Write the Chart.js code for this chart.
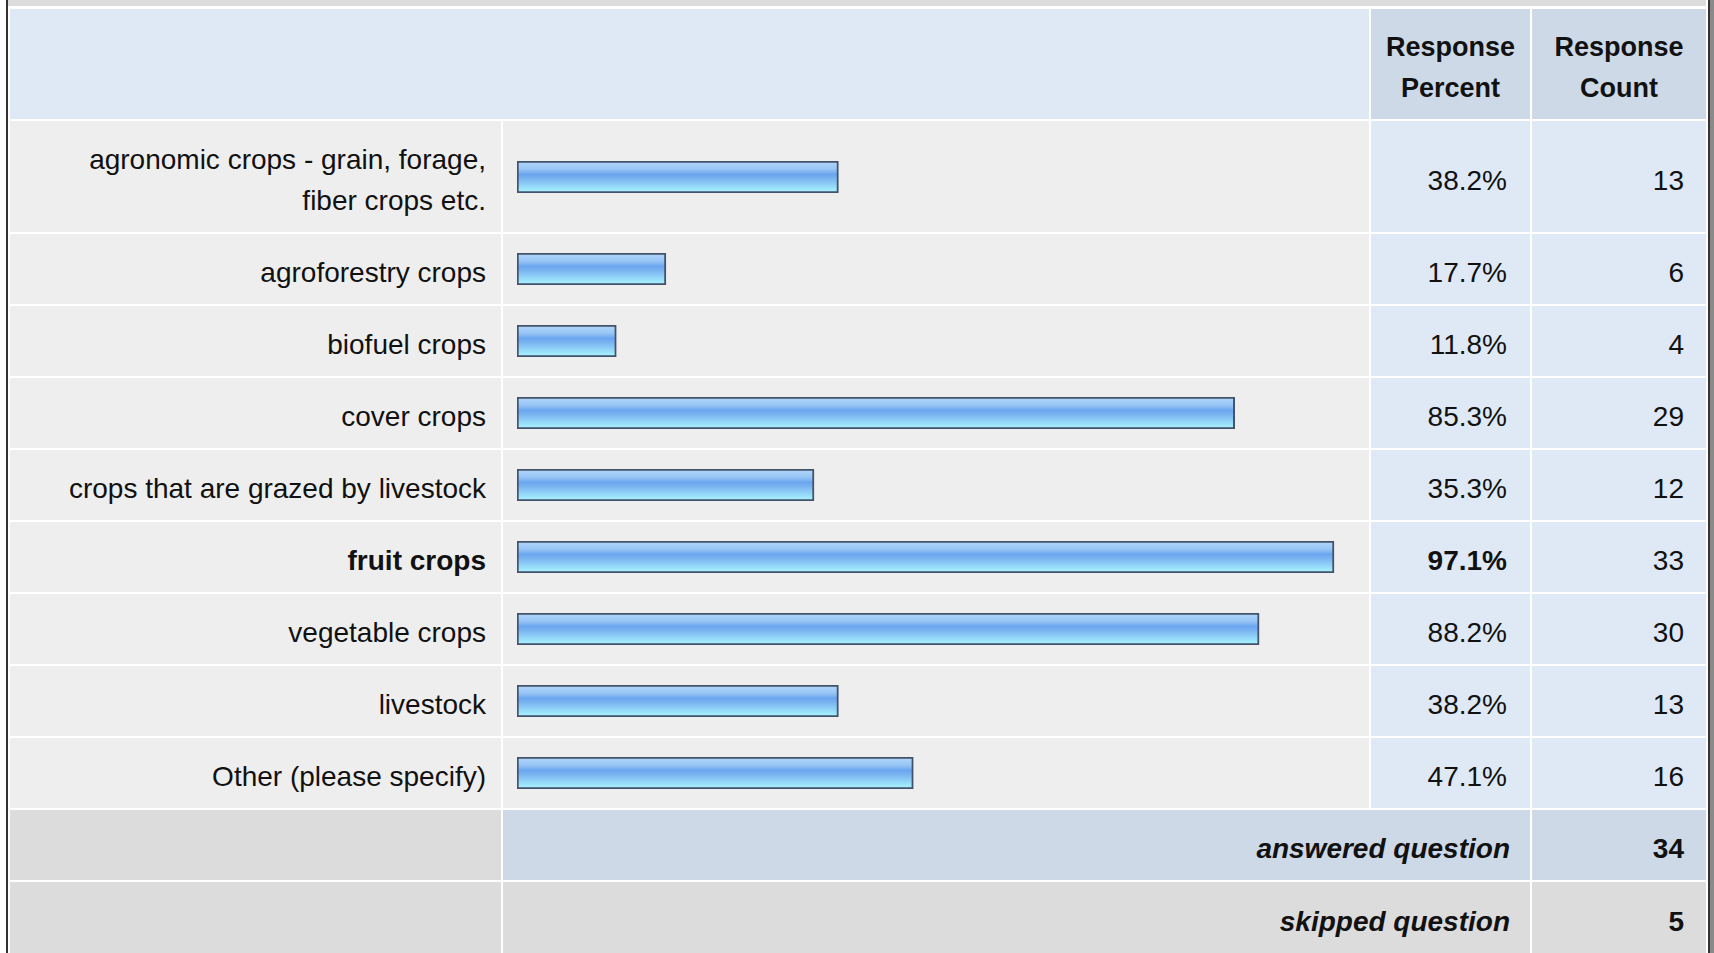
<!DOCTYPE html>
<html>
<head>
<meta charset="utf-8">
<script src="https://cdn.jsdelivr.net/npm/chart.js"></script>
<style>
  html, body { margin:0; padding:0; background:#ffffff; width:1714px; height:953px; overflow:hidden; }
  body { font-family: "Liberation Sans", Arial, Helvetica, sans-serif; color:#111; }
  #lb { position:absolute; left:6px; top:0; width:2px; height:953px; background:#333; }
  #rb { position:absolute; left:1708px; top:0; width:2px; height:953px; background:#333; }
  #rb2 { position:absolute; left:1710px; top:0; width:4px; height:953px; background:#8a8a8a; }
  #band { position:absolute; left:8px; top:0; width:1698px; height:6px; background:#dcdcdc; }
  #grid { position:absolute; left:10px; top:9px; width:1696px; display:grid;
          grid-template-columns: 491px 866px 159px 174px;
          grid-template-rows: 110px 111px repeat(8, 70px) 70px 72px;
          gap:2px; background:#ffffff; font-size:28px; line-height:41px; }
  .c { display:flex; align-items:center; box-sizing:border-box; overflow:hidden; padding-top:7px; }
  .c.bar { padding-top:0; }
  .hdr { background:#dfe9f5; }
  .hdr2 { background:#cdd9e6; justify-content:center; text-align:center; font-weight:bold; font-size:27px; }
  .lab { background:#eeeeee; justify-content:flex-end; text-align:right; padding-left:48px; padding-right:15px; }
  .bar { background:#eeeeee; }
  .pct { background:#dfe9f5; justify-content:flex-end; padding-right:23px; }
  .cnt { background:#dfe9f5; justify-content:flex-end; padding-right:22px; }
  .b { font-weight:bold; }
  .ans0 { background:#dcdcdc; }
  .ans1 { background:#cdd9e6; grid-column: span 2; justify-content:flex-end; padding-right:20px; font-weight:bold; font-style:italic; }
  .ans2 { background:#cdd9e6; justify-content:flex-end; padding-right:22px; font-weight:bold; }
  .sk0 { background:#dcdcdc; }
  .sk1 { background:#dcdcdc; grid-column: span 2; justify-content:flex-end; padding-right:20px; font-weight:bold; font-style:italic; }
  .sk2 { background:#dcdcdc; justify-content:flex-end; padding-right:22px; font-weight:bold; }
  canvas { display:block; }
</style>
</head>
<body>
<div id="lb"></div><div id="rb"></div><div id="rb2"></div><div id="band"></div>
<div id="grid"></div>
<script>
// ---- data ----
const categories = [
  "agronomic crops - grain, forage, fiber crops etc.",
  "agroforestry crops",
  "biofuel crops",
  "cover crops",
  "crops that are grazed by livestock",
  "fruit crops",
  "vegetable crops",
  "livestock",
  "Other (please specify)"
];
const responsePercent = [38.2, 17.7, 11.8, 85.3, 35.3, 97.1, 88.2, 38.2, 47.1];
const responseCount = [13, 6, 4, 29, 12, 33, 30, 13, 16];
const headerLabels = ["Response Percent", "Response Count"];
const answeredLabel = "answered question";
const skippedLabel = "skipped question";
const answeredCount = 34;
const skippedCount = 5;

// ---- build ----
const grid = document.getElementById('grid');
function cell(cls, html) {
  const d = document.createElement('div');
  d.className = 'c ' + cls;
  if (html !== undefined) d.innerHTML = html;
  grid.appendChild(d);
  return d;
}
const hdrMerged = cell('hdr'); hdrMerged.style.gridColumn = 'span 2';
headerLabels.forEach(h => { const w = h.split(' '); cell('hdr2', w[0] + '<br>' + w[1]); });

const maxIdx = responsePercent.indexOf(Math.max(...responsePercent));

function barGradient(ctx) {
  const c = ctx.chart, a = c.chartArea;
  if (!a) return '#88bbf2';
  const g = c.ctx.createLinearGradient(0, a.top, 0, a.bottom);
  g.addColorStop(0.0, '#b4d7fb');
  g.addColorStop(0.25, '#98c6f6');
  g.addColorStop(0.42, '#6ba4ee');
  g.addColorStop(0.55, '#7bb4f1');
  g.addColorStop(0.8, '#96daf9');
  g.addColorStop(1.0, '#aaf8ff');
  return g;
}

categories.forEach((cat, i) => {
  const bold = i === maxIdx ? ' b' : '';
  cell('lab' + bold, cat);
  const bc = cell('bar');
  const cv = document.createElement('canvas');
  cv.width = 866; cv.height = 32;
  bc.appendChild(cv);
  new Chart(cv, {
    type: 'bar',
    data: {
      labels: [cat],
      datasets: [{
        data: [responsePercent[i]],
        backgroundColor: barGradient,
        borderColor: '#42526a',
        borderWidth: 2,
        borderSkipped: false,
        barPercentage: 1,
        categoryPercentage: 1
      }]
    },
    options: {
      indexAxis: 'y',
      responsive: false,
      animation: false,
      events: [],
      layout: { padding: { left: 14, right: 10.6, top: 0, bottom: 0 } },
      plugins: { legend: { display: false }, tooltip: { enabled: false } },
      scales: {
        x: { display: false, min: 0, max: 100 },
        y: { display: false }
      }
    }
  });
  cell('pct' + bold, responsePercent[i].toFixed(1) + '%');
  cell('cnt', String(responseCount[i]));
});

cell('ans0'); cell('ans1', answeredLabel); cell('ans2', String(answeredCount));
cell('sk0'); cell('sk1', skippedLabel); cell('sk2', String(skippedCount));
</script>
</body>
</html>
